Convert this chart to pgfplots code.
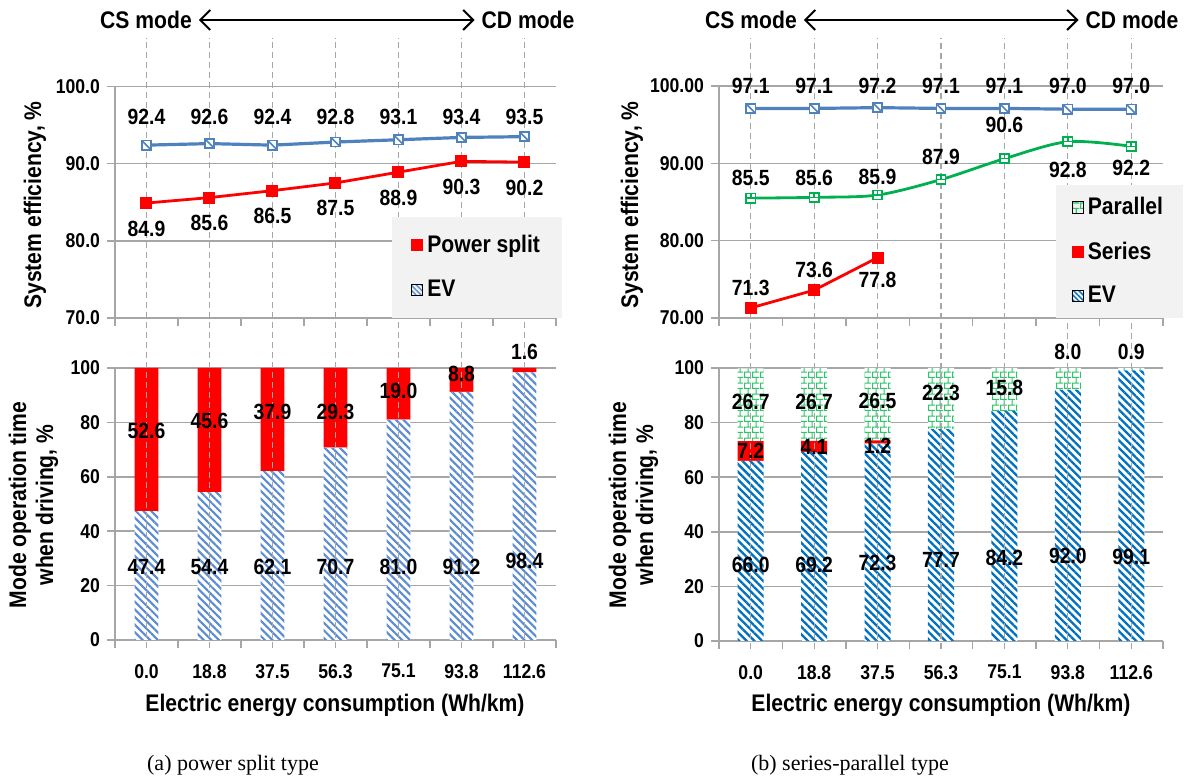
\documentclass[border=0pt]{standalone}
\usepackage{fontspec}
\setmainfont{Liberation Sans}[FakeStretch=0.88]
\newfontfamily\capfont{Liberation Serif}
\usepackage{pgfplots}
\usepackage{pgfplotstable}
\pgfplotsset{compat=1.18}
\usetikzlibrary{patterns,patterns.meta,arrows.meta}
\definecolor{evA}{HTML}{5B8CD2}
\definecolor{evB}{HTML}{0070C0}
\definecolor{lineblue}{HTML}{4F81BD}
\definecolor{pgreen}{HTML}{00B050}
\definecolor{bgreen}{HTML}{2EC46A}
\definecolor{gridgray}{HTML}{A6A6A6}
\definecolor{leggray}{HTML}{F2F2F2}

\pgfdeclarepattern{
  name=mybricks, type=uncolored,
  bottom left={\pgfpoint{0pt}{0pt}},
  top right={\pgfpoint{4pt}{5.6pt}},
  tile size={\pgfpoint{4pt}{5.6pt}},
  code={
    \pgfsetlinewidth{0.6pt}
    \pgfpathmoveto{\pgfpoint{0pt}{0.3pt}}\pgfpathlineto{\pgfpoint{4pt}{0.3pt}}
    \pgfpathmoveto{\pgfpoint{0pt}{3.1pt}}\pgfpathlineto{\pgfpoint{4pt}{3.1pt}}
    \pgfpathmoveto{\pgfpoint{0.3pt}{0.3pt}}\pgfpathlineto{\pgfpoint{0.3pt}{3.1pt}}
    \pgfpathmoveto{\pgfpoint{2.3pt}{3.1pt}}\pgfpathlineto{\pgfpoint{2.3pt}{5.9pt}}
    \pgfusepath{stroke}
  }
}

% hatched square marker (white, outlined, one diagonal)
\pgfdeclareplotmark{hsq}{%
  \pgfpathrectangle{\pgfpoint{-\pgfplotmarksize}{-\pgfplotmarksize}}{\pgfpoint{2\pgfplotmarksize}{2\pgfplotmarksize}}%
  \pgfusepathqfillstroke
  \pgfpathmoveto{\pgfpoint{-\pgfplotmarksize}{\pgfplotmarksize}}%
  \pgfpathlineto{\pgfpoint{\pgfplotmarksize}{-\pgfplotmarksize}}%
  \pgfusepathqstroke
}
% brick square marker
\pgfdeclareplotmark{bsq}{%
  \pgfpathrectangle{\pgfpoint{-\pgfplotmarksize}{-\pgfplotmarksize}}{\pgfpoint{2\pgfplotmarksize}{2\pgfplotmarksize}}%
  \pgfusepathqfillstroke
  \pgfpathmoveto{\pgfpoint{-\pgfplotmarksize}{0pt}}%
  \pgfpathlineto{\pgfpoint{\pgfplotmarksize}{0pt}}%
  \pgfpathmoveto{\pgfpoint{0pt}{0pt}}%
  \pgfpathlineto{\pgfpoint{0pt}{\pgfplotmarksize}}%
  \pgfusepathqstroke
}

\newcommand\lab{\bfseries\fontsize{11}{13}\selectfont}
\newcommand\tit{\bfseries\fontsize{12}{13.5}\selectfont}

\pgfplotsset{
  base/.style={
    scale only axis, anchor=south west,
    xmin=-0.5, xmax=6.5,
    axis x line*=bottom, axis y line*=left,
    axis line style={gridgray, line width=0.75pt, -},
    ymajorgrids, grid style={gridgray, line width=0.75pt},
    xtick={-0.5,0.5,...,6.5}, xticklabels={},
    tick align=outside, tick style={gridgray, line width=0.75pt},
    major tick length=4pt,
    /pgf/number format/assume math mode=true,
    tick label style={font=\bfseries\fontsize{10}{12}\selectfont, black},
    clip=false,
  },
  labs/.style={
    scale only axis, anchor=south west, hide axis,
    xmin=-0.5, xmax=6.5, clip=false,
  },
  labplot/.style={only marks, mark=*, mark size=0pt, mark options={draw=none,fill=none},
    nodes near coords, point meta=explicit symbolic,
    every node near coord/.append style={anchor=center, font=\lab, black, inner sep=0pt}},
  hatchA/.style={fill=white, draw=none, postaction={pattern={Lines[angle=-45,distance=2.7pt,line width=1.05pt]}, pattern color=evA}},
  hatchB/.style={fill=white, draw=none, postaction={pattern={Lines[angle=-45,distance=2.7pt,line width=1.15pt]}, pattern color=evB}},
  brick/.style={fill=white, draw=none, postaction={pattern=mybricks, pattern color=bgreen}},
}

% ---------- data ----------
\pgfplotstableread{
x ev ps
0 47.4 52.6
1 54.4 45.6
2 62.1 37.9
3 70.7 29.3
4 81.0 19.0
5 91.2 8.8
6 98.4 1.6
}\barsA
\pgfplotstableread{
x ev se pa
0 66.0 7.2 26.7
1 69.2 4.1 26.7
2 72.3 1.2 26.5
3 77.7 0.0 22.3
4 84.2 0.0 15.8
5 92.0 0.0 8.0
6 99.1 0.0 0.9
}\barsB
\pgfplotstableread{
x ev ps
0 92.4 84.9
1 92.6 85.6
2 92.4 86.5
3 92.8 87.5
4 93.1 88.9
5 93.4 90.3
6 93.5 90.2
}\effA
\pgfplotstableread{
x ev pa se
0 97.1 85.5 71.3
1 97.1 85.6 73.6
2 97.2 85.9 77.8
3 97.1 87.9 nan
4 97.1 90.6 nan
5 97.0 92.8 nan
6 97.0 92.2 nan
}\effB

\begin{document}
\begin{tikzpicture}
\useasboundingbox (0,0) rectangle (595.5pt,390pt);

% ================= (a) bottom =================
\begin{axis}[base, at={(57.5pt,70pt)}, width=220.5pt, height=136pt,
  ymin=0, ymax=100, ytick={0,20,...,100}, ybar stacked, bar width=0.38,
  extra x ticks={0,...,6},
  extra x tick labels={0.0,18.8,37.5,56.3,75.1,93.8,112.6},
  extra x tick style={major tick length=0pt, grid=none, tick label style={yshift=-8.5pt}}]
\pgfplotsinvokeforeach{0,...,6}{\draw[gridgray, dash pattern=on 3pt off 2pt, line width=0.6pt] (axis cs:#1,-3) -- (axis cs:#1,221.3);}
\addplot[hatchA] table[x=x,y=ev]{\barsA};
\addplot[fill=red, draw=none] table[x=x,y=ps]{\barsA};
\end{axis}
\begin{axis}[labs, at={(57.5pt,70pt)}, width=220.5pt, height=136pt, ymin=0, ymax=100]
\addplot[labplot] table[meta=l]{
x y l
0 27 47.4
1 27 54.4
2 27 62.1
3 27 70.7
4 27 81.0
5 27 91.2
6 29 98.4
};
\addplot[labplot] table[meta=l]{
x y l
0 76.7 52.6
1 80.4 45.6
2 83.8 37.9
3 83.9 29.3
4 91.5 19.0
5 97.8 8.8
6 106 1.6
};
\end{axis}

% ================= (a) top =================
\begin{axis}[base, at={(57.5pt,231pt)}, width=220.5pt, height=115.75pt,
  ymin=70, ymax=100, ytick={70,80,90,100},
  y tick label style={/pgf/number format/fixed, /pgf/number format/fixed zerofill, /pgf/number format/precision=1},
  legend style={at={(0.628,0)}, anchor=south west, fill=leggray, draw=none,
    font=\tit, row sep=8.5pt, inner xsep=9pt, inner ysep=7pt,
    nodes={inner sep=2pt}},
  legend cell align=left]
\addplot[forget plot, lineblue, line width=1.6pt, mark=hsq, mark size=2.3pt,
  mark options={fill=white, draw=lineblue, line width=0.8pt}] table[x=x,y=ev]{\effA};
\addplot[forget plot, red, line width=1.4pt, mark=square*, mark size=2.3pt,
  mark options={fill=red}] table[x=x,y=ps]{\effA};
\addplot[forget plot, labplot] table[meta=l]{
x y l
0 96 92.4
1 96 92.6
2 96 92.4
3 96 92.8
4 96 93.1
5 96 93.4
6 96 93.5
};
\addplot[forget plot, labplot] table[meta=l]{
x y l
0 81.6 84.9
1 82.3 85.6
2 83.2 86.5
3 84.2 87.5
4 85.6 88.9
5 87.0 90.3
6 86.9 90.2
};
\addlegendimage{legend image code/.code={\fill[red] (0pt,-2.9pt) rectangle (5.8pt,2.9pt);}}
\addlegendentry{Power split}
\addlegendimage{legend image code/.code={\fill[pattern={Lines[angle=-45,distance=1.8pt,line width=0.7pt]}, pattern color=evA] (0pt,-2.9pt) rectangle (5.8pt,2.9pt);}}
\addlegendentry{EV}
\end{axis}

% ================= (b) bottom =================
\begin{axis}[base, at={(359.5pt,69.5pt)}, width=222pt, height=136.5pt,
  ymin=0, ymax=100, ytick={0,20,...,100}, ybar stacked, bar width=0.41,
  extra x ticks={0,...,6},
  extra x tick labels={0.0,18.8,37.5,56.3,75.1,93.8,112.6},
  extra x tick style={major tick length=0pt, grid=none, tick label style={yshift=-8.5pt}}]
\pgfplotsinvokeforeach{0,...,6}{\draw[gridgray, dash pattern=on 3pt off 2pt, line width=0.6pt] (axis cs:#1,-3) -- (axis cs:#1,220.9);}
\addplot[hatchB] table[x=x,y=ev]{\barsB};
\addplot[fill=red, draw=none] table[x=x,y=se]{\barsB};
\addplot[brick] table[x=x,y=pa]{\barsB};
\end{axis}
\begin{axis}[labs, at={(359.5pt,69.5pt)}, width=222pt, height=136.5pt, ymin=0, ymax=100]
\addplot[labplot] table[meta=l]{
x y l
0 27.8 66.0
1 27.8 69.2
2 28.6 72.3
3 29.7 77.7
4 30.4 84.2
5 31.1 92.0
6 30.8 99.1
};
\addplot[labplot] table[meta=l]{
x y l
0 69.6 7.2
1 71.2 4.1
2 71.6 1.2
};
\addplot[labplot] table[meta=l]{
x y l
0 87.5 26.7
1 87.5 26.7
2 87.8 26.5
3 90.8 22.3
4 92.7 15.8
5 105.9 8.0
6 105.9 0.9
};
\end{axis}

% ================= (b) top =================
\begin{axis}[base, at={(359.5pt,231pt)}, width=222pt, height=116pt,
  ymin=70, ymax=100, ytick={70,80,90,100},
  y tick label style={/pgf/number format/fixed, /pgf/number format/fixed zerofill, /pgf/number format/precision=2},
  legend style={at={(0.757,0)}, anchor=south west, fill=leggray, draw=none,
    font=\tit, row sep=8pt, inner xsep=8pt, inner ysep=4pt,
    nodes={inner sep=2pt}},
  legend cell align=left]
\addplot[forget plot, lineblue, line width=1.6pt, mark=hsq, mark size=2.3pt,
  mark options={fill=white, draw=lineblue, line width=0.8pt}] table[x=x,y=ev]{\effB};
\addplot[forget plot, pgreen, line width=1.4pt, smooth, mark=bsq, mark size=2.3pt,
  mark options={fill=white, draw=pgreen, line width=0.8pt}] table[x=x,y=pa]{\effB};
\addplot[forget plot, red, line width=1.4pt, mark=square*, mark size=2.3pt,
  mark options={fill=red}, unbounded coords=discard] table[x=x,y=se]{\effB};
\addplot[forget plot, labplot] table[meta=l]{
x y l
0 100 97.1
1 100 97.1
2 100 97.2
3 100 97.1
4 100 97.1
5 100 97.0
6 100 97.0
};
\addplot[forget plot, labplot] table[meta=l]{
x y l
0 88.1 85.5
1 88.1 85.6
2 88.3 85.9
3 90.8 87.9
4 95.0 90.6
5 89.1 92.8
6 89.4 92.2
};
\addplot[forget plot, labplot] table[meta=l]{
x y l
0 73.9 71.3
1 76.2 73.6
2 74.9 77.8
};
\addlegendimage{legend image code/.code={\fill[pattern=mybricks, pattern color=bgreen] (0pt,-2.9pt) rectangle (5.8pt,2.9pt);}}
\addlegendentry{Parallel}
\addlegendimage{legend image code/.code={\fill[red] (0pt,-2.9pt) rectangle (5.8pt,2.9pt);}}
\addlegendentry{Series}
\addlegendimage{legend image code/.code={\fill[pattern={Lines[angle=-45,distance=1.8pt,line width=0.7pt]}, pattern color=evB] (0pt,-2.9pt) rectangle (5.8pt,2.9pt);}}
\addlegendentry{EV}
\end{axis}

% ================= texts =================
\node[font=\tit] (csa) at (73pt,380pt) {CS mode};
\node[font=\tit] (cda) at (264pt,380pt) {CD mode};
\draw[line width=1pt, {Straight Barb[length=5pt]}-{Straight Barb[length=5pt]}] (csa.east) -- (cda.west);
\node[font=\tit] (csb) at (375.5pt,380pt) {CS mode};
\node[font=\tit] (cdb) at (566pt,380pt) {CD mode};
\draw[line width=1pt, {Straight Barb[length=5pt]}-{Straight Barb[length=5pt]}] (csb.east) -- (cdb.west);

\node[font=\tit, rotate=90] at (17.5pt,287.5pt) {System efficiency, \%};
\node[font=\tit, rotate=90, align=center] at (16.75pt,137.5pt) {Mode operation time\\when driving, \%};
\node[font=\tit] at (167.5pt,37.5pt) {Electric energy consumption (Wh/km)};
\node[font={\capfont\fontsize{11}{13}\selectfont}] at (116.5pt,7.5pt) {(a) power split type};

\node[font=\tit, rotate=90] at (316pt,287.5pt) {System efficiency, \%};
\node[font=\tit, rotate=90, align=center] at (316.75pt,137.5pt) {Mode operation time\\when driving, \%};
\node[font=\tit] at (470.5pt,37.5pt) {Electric energy consumption (Wh/km)};
\node[font={\capfont\fontsize{11}{13}\selectfont}] at (425pt,7.5pt) {(b) series-parallel type};
\end{tikzpicture}
\end{document}
